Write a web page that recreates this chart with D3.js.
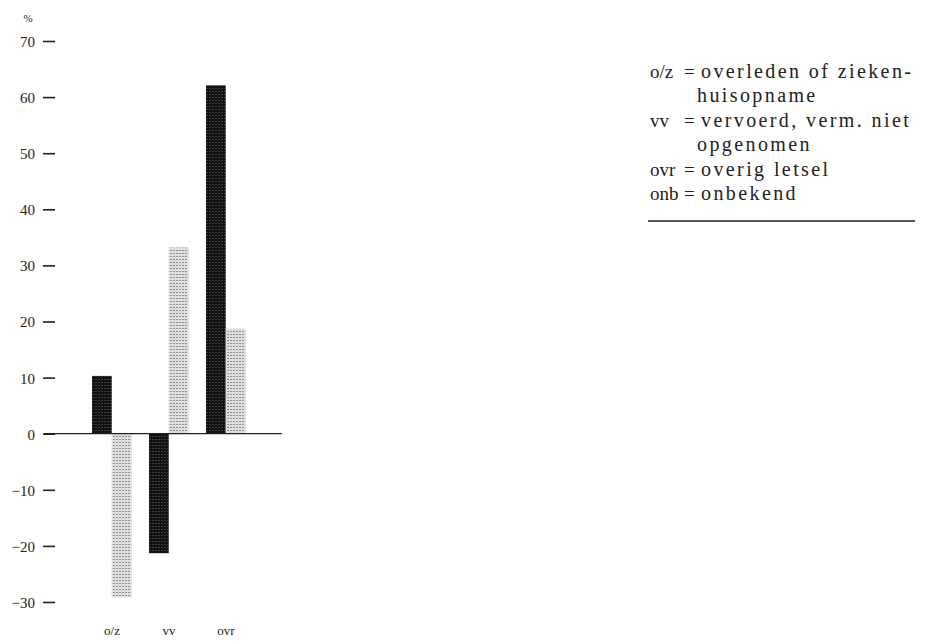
<!DOCTYPE html>
<html>
<head>
<meta charset="utf-8">
<script src="https://cdn.jsdelivr.net/npm/d3@7"></script>
<style>
  body { margin: 0; background: #fff; }
</style>
</head>
<body>
<script>
// data
var categories = ["o/z", "vv", "ovr"];
var seriesNames = ["dark", "light"];
var darkValues = [10.3, -21.3, 62.1];
var lightValues = [-29.2, 33.2, 18.7];
var yTicks = [-30, -20, -10, 0, 10, 20, 30, 40, 50, 60, 70];
var legendKeys = ["o/z", "", "vv", "", "ovr", "onb"];
var legendTexts = ["overleden of zieken-", "huisopname", "vervoerd, verm. niet", "opgenomen", "overig letsel", "onbekend"];

const w = 928,
      h = 644,
      serif = "'Liberation Serif', 'Times New Roman', Times, serif";

const svg = d3.select("body")
              .append("svg")
              .attr("width", w)
              .attr("height", h)
              .attr("font-family", serif);

// halftone looking fills
const defs = svg.append("defs");
const pDark = defs.append("pattern")
    .attr("id", "pdark").attr("width", 3).attr("height", 3)
    .attr("patternUnits", "userSpaceOnUse");
pDark.append("rect").attr("width", 3).attr("height", 3).attr("fill", "#111");
pDark.append("rect").attr("x", 1).attr("y", 1).attr("width", 1).attr("height", 1).attr("fill", "#6a6a6a");
const pLight = defs.append("pattern")
    .attr("id", "plight").attr("width", 3).attr("height", 3)
    .attr("patternUnits", "userSpaceOnUse");
pLight.append("rect").attr("width", 3).attr("height", 3).attr("fill", "#dedede");
pLight.append("rect").attr("x", 1).attr("y", 1).attr("width", 1).attr("height", 1).attr("fill", "#444");

const yScale = d3.scaleLinear()
                 .domain([-30, 70])
                 .range([602, 41]);

const xScale = d3.scaleBand()
                 .domain(categories)
                 .range([82.5, 253.5])
                 .padding(0);

const xSub = d3.scaleBand()
               .domain(seriesNames)
               .range([9.5, 49])
               .padding(0);

const yAxis = d3.axisLeft(yScale)
                .tickValues(yTicks)
                .tickSize(12)
                .tickPadding(8)
                .tickFormat(d3.format("d"));

const gy = svg.append("g")
    .attr("transform", "translate(55,0)")
    .call(yAxis)
    .attr("font-family", serif);
gy.select(".domain").remove();
gy.selectAll(".tick line").attr("stroke", "#222").attr("stroke-width", 1.6);
gy.selectAll(".tick text").attr("font-size", 15).attr("fill", "#222").attr("dy", "0.36em");

svg.append("text")
    .text("%")
    .attr("x", 28)
    .attr("y", 22)
    .attr("font-size", 11)
    .attr("fill", "#222")
    .attr("text-anchor", "middle");

const rows = categories.map((c, i) => ({cat: c, dark: darkValues[i], light: lightValues[i]}));

const groups = svg.selectAll("g.grp")
    .data(rows)
    .enter()
    .append("g")
    .attr("class", "grp")
    .attr("transform", d => "translate(" + xScale(d.cat) + ",0)");

groups.selectAll("rect")
    .data(d => seriesNames.map(s => ({key: s, v: d[s]})))
    .enter()
    .append("rect")
    .attr("x", d => xSub(d.key))
    .attr("width", xSub.bandwidth())
    .attr("y", d => yScale(Math.max(0, d.v)))
    .attr("height", d => Math.abs(yScale(d.v) - yScale(0)))
    .attr("fill", d => d.key == "dark" ? "url(#pdark)" : "url(#plight)");

// zero line
svg.append("line")
    .attr("x1", 44).attr("x2", 282)
    .attr("y1", yScale(0)).attr("y2", yScale(0))
    .attr("stroke", "#222")
    .attr("stroke-width", 1.3);

const xAxis = d3.axisBottom(xScale).tickSize(0).tickPadding(0);
const gx = svg.append("g")
    .attr("transform", "translate(1,626)")
    .call(xAxis)
    .attr("font-family", serif);
gx.select(".domain").remove();
gx.selectAll(".tick text").attr("font-size", 13).attr("fill", "#222");

// legend / explanation
const leg = svg.append("g").attr("transform", "translate(650,78)")
    .attr("fill", "#222");
const rowH = 24.4;
leg.selectAll("text.k")
    .data(legendKeys)
    .enter()
    .append("text")
    .attr("class", "k")
    .attr("x", 0)
    .attr("y", (d, i) => i * rowH)
    .attr("font-size", 19)
    .text(d => d);
leg.selectAll("text.eq")
    .data(legendKeys)
    .enter()
    .filter(d => d != "")
    .append("text")
    .attr("class", "eq")
    .attr("x", 34)
    .attr("y", d => legendKeys.indexOf(d) * rowH)
    .attr("font-size", 19)
    .text("=");
leg.selectAll("text.v")
    .data(legendTexts)
    .enter()
    .append("text")
    .attr("class", "v")
    .attr("x", (d, i) => legendKeys[i] == "" ? 47 : 51)
    .attr("y", (d, i) => i * rowH)
    .attr("font-size", 20)
    .attr("letter-spacing", 2.4)
    .text(d => d);

svg.append("line")
    .attr("x1", 648).attr("x2", 915)
    .attr("y1", 221).attr("y2", 221)
    .attr("stroke", "#222")
    .attr("stroke-width", 1.4);
</script>
</body>
</html>
